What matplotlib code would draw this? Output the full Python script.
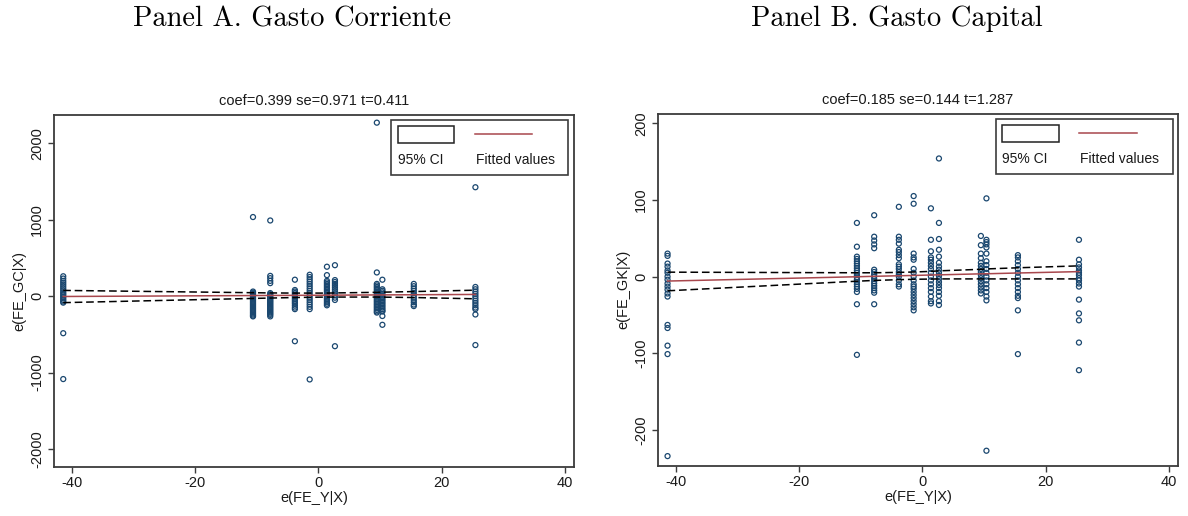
import matplotlib
matplotlib.use("Agg")
import matplotlib.pyplot as plt
from matplotlib.patches import Rectangle
from matplotlib.lines import Line2D

plt.rcParams["font.family"] = ["Liberation Sans", "DejaVu Sans"]
plt.rcParams["axes.unicode_minus"] = False

# x positions of the country columns, e(FE_Y|X)
x_gc = [-41.4, -10.6, -7.8, -3.8, -1.4, 1.4, 2.7, 9.5, 10.4, 15.5, 25.5]
x_gk = [-41.3, -10.6, -7.8, -3.8, -1.4, 1.4, 2.7, 9.5, 10.4, 15.5, 25.4]

# Panel A: e(FE_GC|X) per column
gc_cols = [
    [260, 230, 200, 175, 150, 125, 100, 75, 50, 30, 10, -10, -30, -50, -70, -85, -485, -1085],
    [60, 45, 30, 15, 0, -15, -30, -45, -60, -75, -90, -105, -120, -135, -150, -165, -180,
     -195, -210, -225, -240, -255, -265, 1035],
    [990, 265, 235, 200, 170, 40, 25, 10, -5, -20, -35, -50, -65, -80, -95, -110, -125,
     -140, -155, -170, -185, -200, -215, -230, -245, -265],
    [215, 80, 60, 40, 20, 0, -20, -40, -60, -80, -100, -125, -150, -170, -590],
    [280, 250, 220, 190, 160, 130, 100, 70, 40, 10, -20, -50, -80, -110, -140, -170, -1090],
    [385, 275, 200, 180, 160, 140, 120, 100, 80, 60, 40, 20, 0, -20, -40, -60, -80, -100, -120],
    [405, 210, 185, 160, 135, 110, 85, 60, 35, 10, -20, -50, -655],
    [2270, 310, 160, 140, 120, 100, 80, 60, 40, 20, 0, -20, -40, -60, -80, -100, -120, -140,
     -160, -180, -200, -215],
    [215, 90, 70, 50, 30, 10, -10, -30, -50, -70, -90, -110, -130, -150, -170, -190, -200,
     -260, -375],
    [160, 130, 100, 70, 40, 10, -20, -50, -80, -110, -130],
    [1425, 120, 90, 60, 30, 0, -30, -60, -90, -120, -150, -170, -240, -640],
]
gc_fit = [-4.5, 7.8, 8.9, 10.5, 11.4, 12.6, 13.1, 15.8, 16.1, 18.2, 22.2]
gc_lo = [-85, -30, -25, -18, -15, -12, -12, -12, -13, -18, -35]
gc_hi = [75, 45, 42, 40, 40, 40, 42, 50, 52, 60, 78]

# Panel B: e(FE_GK|X) per column
gk_cols = [
    [30, 27, 17, 13, 8, 5, 0, -4, -9, -13, -17, -22, -26, -63, -67, -90, -101, -234],
    [70, 39, 26, 23, 20, 17, 14, 11, 8, 5, 2, -1, -4, -7, -10, -13, -16, -20, -36, -102],
    [80, 52, 47, 42, 37, 9, 6, 3, 0, -3, -6, -9, -12, -15, -18, -21, -36],
    [91, 52, 48, 43, 35, 32, 28, 24, 16, 13, 10, 6, 3, 0, -5, -10, -13],
    [105, 95, 30, 25, 22, 10, 5, 0, -5, -10, -13, -16, -20, -24, -28, -32, -36, -40, -44],
    [89, 48, 33, 25, 22, 18, 14, 10, 5, 0, -5, -10, -15, -20, -26, -32, -35],
    [154, 70, 49, 35, 26, 18, 13, 9, 5, 1, -3, -7, -11, -15, -20, -25, -32, -37],
    [53, 41, 30, 24, 18, 14, 10, 6, 2, -2, -6, -10, -14, -18, -22],
    [102, 48, 45, 42, 38, 30, 20, 15, 10, 5, 0, -5, -10, -15, -20, -26, -31, -227],
    [28, 25, 20, 15, 10, 5, 0, -5, -10, -15, -20, -25, -28, -44, -101],
    [48, 22, 16, 12, 8, 5, 2, -2, -5, -9, -13, -30, -48, -57, -86, -122],
]
gk_fit = [-5.8, -0.2, 0.4, 1.1, 1.5, 2.1, 2.3, 3.6, 3.7, 4.7, 6.5]
gk_lo = [-18.5, -6, -5, -4, -3.5, -3.2, -3, -3, -3, -3, -3]
gk_hi = [5.8, 5, 5, 5.5, 6, 6.8, 7.5, 9.5, 10, 11.5, 14]

NAVY = "#1a476f"
MAROON = "#a8474d"
FRAME = "#3c3c3c"


def draw_panel(ax, xs, cols, fit, lo, hi, yticks, ylim, ylabel, stats):
    for x, ys in zip(xs, cols):
        ax.scatter([x] * len(ys), ys, s=13, facecolors="none",
                   edgecolors=NAVY, linewidths=0.9, zorder=3)
    ax.plot(xs, hi, color="black", lw=1.1, dashes=(5, 2.5), zorder=4)
    ax.plot(xs, lo, color="black", lw=1.1, dashes=(5, 2.5), zorder=4)
    ax.plot(xs, fit, color=MAROON, lw=1.1, zorder=5)

    ax.set_xlim(-42.9, 41.5)
    ax.set_ylim(*ylim)
    ax.set_xticks([-40, -20, 0, 20, 40])
    ax.set_yticks(yticks)
    for sp in ax.spines.values():
        sp.set_color(FRAME)
        sp.set_linewidth(1.3)
    ax.tick_params(length=4, width=1, color=FRAME, labelsize=10.5,
                   labelcolor="#1a1a1a", pad=3)
    ax.tick_params(axis="y", labelrotation=90)
    for lab in ax.get_yticklabels():
        lab.set_va("center")

    ax.set_xlabel("e(FE_Y|X)", fontsize=10.5, color="#1a1a1a")
    ax.xaxis.set_label_coords(0.5, -0.068)
    ax.set_ylabel(ylabel, fontsize=10.5, color="#1a1a1a", va="center")
    ax.yaxis.set_label_coords(-0.066, 0.5)
    ax.set_title(stats, fontsize=10.5, color="#1a1a1a", pad=7)

    # Stata-style legend: keys on top, labels below
    ax.add_patch(Rectangle((0.649, 0.829), 0.34, 0.158, transform=ax.transAxes,
                           facecolor="white", edgecolor=FRAME, lw=1.2, zorder=6))
    ax.add_patch(Rectangle((0.662, 0.921), 0.108, 0.047, transform=ax.transAxes,
                           facecolor="white", edgecolor="#222222", lw=1.1, zorder=7))
    ax.add_line(Line2D([0.809, 0.92], [0.945, 0.945], transform=ax.transAxes,
                       color=MAROON, lw=1.1, zorder=7))
    ax.text(0.662, 0.871, "95% CI", transform=ax.transAxes, fontsize=10,
            va="center", ha="left", color="#1a1a1a", zorder=8)
    ax.text(0.811, 0.871, "Fitted values", transform=ax.transAxes, fontsize=10,
            va="center", ha="left", color="#1a1a1a", zorder=8)


fig = plt.figure(figsize=(11.88, 5.16), dpi=100)
axA = fig.add_axes([0.04545, 0.0955, 0.4377, 0.6816])
axB = fig.add_axes([0.5536, 0.0975, 0.4382, 0.6816])

draw_panel(axA, x_gc, gc_cols, gc_fit, gc_lo, gc_hi,
           [-2000, -1000, 0, 1000, 2000], (-2232, 2370),
           "e(FE_GC|X)", "coef=0.399 se=0.971 t=0.411")
draw_panel(axB, x_gk, gk_cols, gk_fit, gk_lo, gk_hi,
           [-200, -100, 0, 100, 200], (-246.5, 212),
           "e(FE_GK|X)", "coef=0.185 se=0.144 t=1.287")

fig.text(0.2458, 0.963, "Panel A. Gasto Corriente", fontsize=20.5,
         family="cmr10", ha="center", va="center")
fig.text(0.755, 0.963, "Panel B. Gasto Capital", fontsize=20.5,
         family="cmr10", ha="center", va="center")

fig.savefig("out.png", dpi=100)
